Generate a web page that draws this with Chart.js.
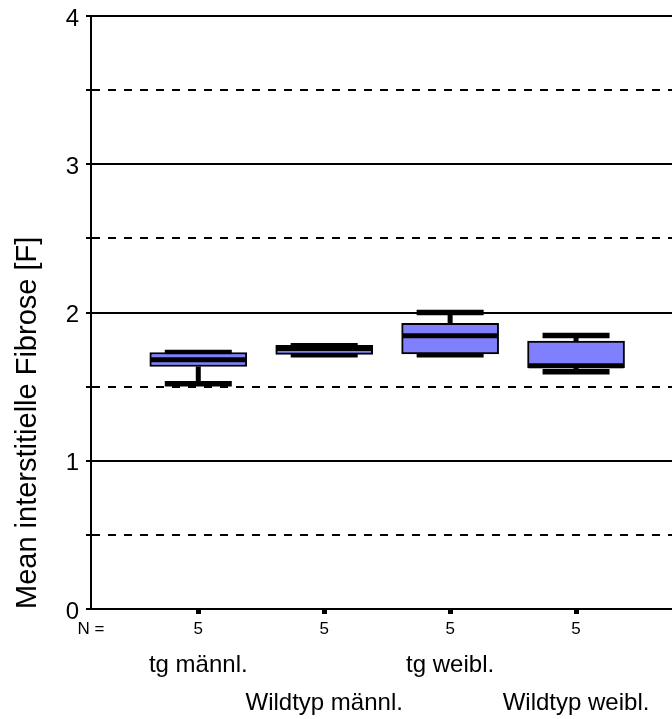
<!DOCTYPE html>
<html lang="de">
<head>
    <meta charset="UTF-8">
    <title>Mean interstitielle Fibrose</title>
    <script src="https://cdn.jsdelivr.net/npm/chart.js@4.4.0/dist/chart.umd.min.js"></script>
    <style>
        body {
            margin: 0;
            background: #fff;
        }
        #boxChart {
            display: block;
        }
    </style>
</head>
<body>
<canvas id="boxChart" width="672" height="719"></canvas>
<script>
    // Gruppen und Kennwerte der Boxplots
    const categories = ['tg männl.', 'Wildtyp männl.', 'tg weibl.', 'Wildtyp weibl.'];
    const nLabels = ['5', '5', '5', '5'];
    const whiskerLow = [1.52, 1.715, 1.715, 1.60];
    const q1 = [1.636, 1.718, 1.72, 1.626];
    const median = [1.682, 1.757, 1.844, 1.64];
    const q3 = [1.73, 1.779, 1.927, 1.808];
    const whiskerHigh = [1.73, 1.775, 2.0, 1.845];

    const yTickValues = [0, 0.5, 1, 1.5, 2, 2.5, 3, 3.5, 4];
    const yTickLabels = ['0', '', '1', '', '2', '', '3', '', '4'];

    const FONT = "'Liberation Sans', Arial, sans-serif";

    // Whisker unter den Boxen, Mediane darüber
    const boxExtras = {
        id: 'boxExtras',
        beforeDatasetsDraw(chart) {
            const {ctx, scales: {x, y}} = chart;
            ctx.save();
            ctx.strokeStyle = '#000';
            ctx.lineCap = 'butt';
            categories.forEach((c, i) => {
                const px = x.getPixelForValue(i + 1);
                ctx.lineWidth = 5;
                ctx.beginPath();
                ctx.moveTo(px, y.getPixelForValue(whiskerHigh[i]));
                ctx.lineTo(px, y.getPixelForValue(q3[i]));
                ctx.moveTo(px, y.getPixelForValue(q1[i]));
                ctx.lineTo(px, y.getPixelForValue(whiskerLow[i]));
                ctx.stroke();
                ctx.lineWidth = 5.5;
                ctx.beginPath();
                [whiskerHigh[i], whiskerLow[i]].forEach(v => {
                    const py = y.getPixelForValue(v);
                    ctx.moveTo(px - 33.5, py);
                    ctx.lineTo(px + 33.5, py);
                });
                ctx.stroke();
            });
            ctx.restore();
        },
        afterDatasetsDraw(chart) {
            const {ctx, scales: {x, y}} = chart;
            ctx.save();
            ctx.strokeStyle = '#000';
            ctx.lineWidth = 5;
            categories.forEach((c, i) => {
                const px = x.getPixelForValue(i + 1);
                const py = y.getPixelForValue(median[i]);
                ctx.beginPath();
                ctx.moveTo(px - 47.5, py);
                ctx.lineTo(px + 47.5, py);
                ctx.stroke();
            });
            ctx.restore();
        },
        afterDraw(chart) {
            const {ctx, chartArea, scales: {x}} = chart;
            ctx.save();
            ctx.fillStyle = '#000';
            ctx.textAlign = 'center';
            ctx.textBaseline = 'middle';
            ctx.font = '17px ' + FONT;
            ctx.fillText('N =', 91, chartArea.bottom + 20);
            ctx.font = '24px ' + FONT;
            ctx.textBaseline = 'alphabetic';
            categories.forEach((c, i) => {
                const px = x.getPixelForValue(i + 1);
                ctx.fillText(c, px, chartArea.bottom + (i % 2 === 0 ? 63 : 101));
            });
            ctx.restore();
        }
    };

    new Chart(document.getElementById('boxChart'), {
        type: 'bar',
        data: {
            datasets: [{
                data: categories.map((c, i) => ({x: i + 1, y: [q1[i], q3[i]]})),
                backgroundColor: '#8080ff',
                borderColor: '#000',
                borderWidth: 2,
                borderSkipped: false,
                barThickness: 97
            }]
        },
        options: {
            responsive: false,
            animation: false,
            layout: {padding: {top: 16, right: 0, bottom: 0, left: 0}},
            plugins: {
                legend: {display: false},
                tooltip: {enabled: false}
            },
            scales: {
                x: {
                    type: 'linear',
                    offset: false,
                    min: 0.148,
                    max: 4.762,
                    afterBuildTicks: scale => {
                        scale.ticks = categories.map((c, i) => ({value: i + 1}));
                    },
                    afterFit: scale => {
                        scale.height = 110;
                        scale.paddingLeft = 0;
                        scale.paddingRight = 0;
                    },
                    ticks: {
                        autoSkip: false,
                        maxRotation: 0,
                        padding: 5,
                        color: '#000',
                        font: {family: FONT, size: 17},
                        callback: (v, i) => nLabels[i]
                    },
                    grid: {
                        offset: false,
                        drawOnChartArea: false,
                        drawTicks: true,
                        tickLength: 5,
                        tickWidth: 5,
                        tickColor: '#000'
                    },
                    border: {display: true, color: '#000', width: 2}
                },
                y: {
                    min: 0,
                    max: 4,
                    afterBuildTicks: scale => {
                        scale.ticks = yTickValues.map(v => ({value: v}));
                    },
                    afterFit: scale => {
                        scale.width = 91;
                        scale.paddingTop = 0;
                        scale.paddingBottom = 0;
                    },
                    ticks: {
                        padding: 7,
                        labelOffset: 3,
                        color: '#000',
                        font: {family: FONT, size: 24},
                        callback: (v, i) => yTickLabels[i]
                    },
                    grid: {
                        color: '#000',
                        lineWidth: 2,
                        drawTicks: true,
                        tickLength: 5,
                        tickWidth: 2,
                        tickColor: '#000'
                    },
                    border: {
                        display: true,
                        color: '#000',
                        width: 2,
                        dash: ctx => (ctx.tick && !Number.isInteger(ctx.tick.value)) ? [8, 8] : []
                    },
                    title: {
                        display: true,
                        text: 'Mean interstitielle Fibrose [F]',
                        align: 'start',
                        color: '#000',
                        font: {family: FONT, size: 29},
                        padding: {top: 11, bottom: 0}
                    }
                }
            }
        },
        plugins: [boxExtras]
    });
</script>
</body>
</html>
